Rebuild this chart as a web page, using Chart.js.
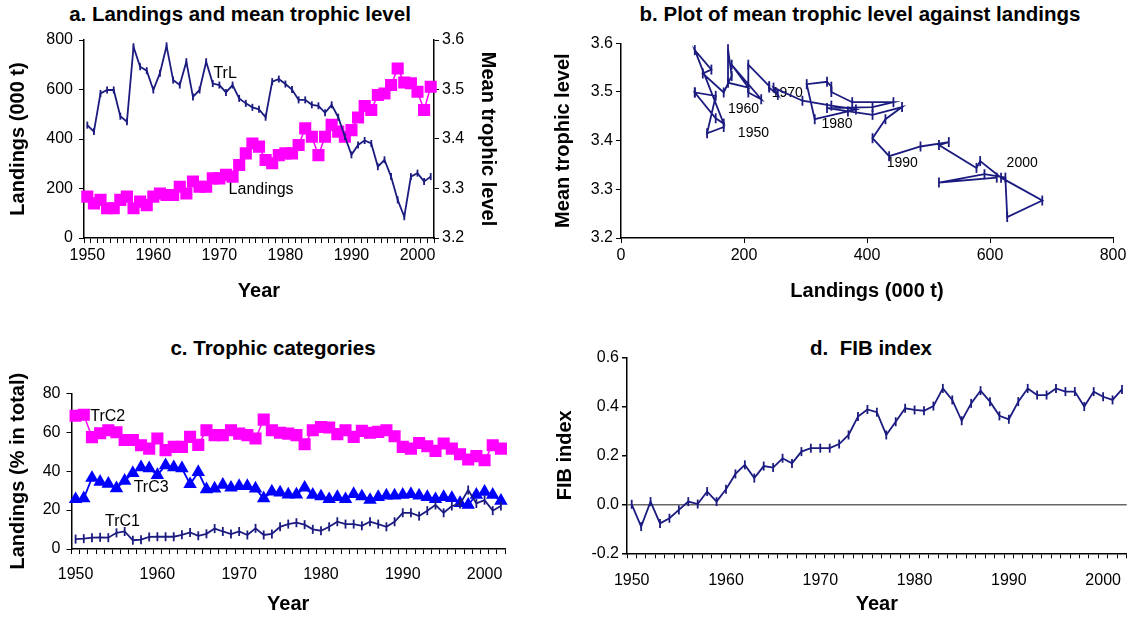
<!DOCTYPE html>
<html>
<head>
<meta charset="utf-8">
<script src="https://cdn.jsdelivr.net/npm/chart.js@4.4.1/dist/chart.umd.min.js"></script>
<style>
  body { margin: 0; background: #fff; width: 1133px; height: 617px; overflow: hidden; position: relative;
         font-family: "Liberation Sans", Arial, sans-serif; }
  canvas { position: absolute; }
  .ttl { position: absolute; font-weight: bold; font-size: 20.5px; white-space: nowrap; transform: translateX(-50%); line-height: 24px; }
</style>
</head>
<body>
<div class="ttl" style="left:240px;top:2px">a. Landings and mean trophic level</div>
<div class="ttl" style="left:860px;top:2px">b. Plot of mean trophic level against landings</div>
<div class="ttl" style="left:273px;top:336px">c. Trophic categories</div>
<div class="ttl" style="left:871px;top:336px">d.&nbsp; FIB index</div>

<canvas id="ca" width="560" height="310" style="left:0;top:0"></canvas>
<canvas id="cb" width="588" height="310" style="left:545px;top:0"></canvas>
<canvas id="cc" width="545" height="297" style="left:0;top:320px"></canvas>
<canvas id="cd" width="588" height="297" style="left:545px;top:320px"></canvas>

<script>
var years = [1950, 1951, 1952, 1953, 1954, 1955, 1956, 1957, 1958, 1959,
             1960, 1961, 1962, 1963, 1964, 1965, 1966, 1967, 1968, 1969,
             1970, 1971, 1972, 1973, 1974, 1975, 1976, 1977, 1978, 1979,
             1980, 1981, 1982, 1983, 1984, 1985, 1986, 1987, 1988, 1989,
             1990, 1991, 1992, 1993, 1994, 1995, 1996, 1997, 1998, 1999,
             2000, 2001, 2002];
var decadeTicks = [1950, 1960, 1970, 1980, 1990, 2000];

// landings, 000 t
var landings = [167, 140, 154, 120, 120, 154, 167, 120, 147, 133,
                167, 180, 174, 174, 207, 180, 228, 207, 207, 241,
                241, 255, 248, 295, 342, 382, 369, 315, 302, 335,
                342, 342, 376, 443, 409, 335, 409, 457, 430, 409,
                436, 487, 533, 517, 578, 584, 618, 685, 628, 625,
                591, 517, 611];

// mean trophic level
var trl = [3.428, 3.415, 3.492, 3.499, 3.499, 3.446, 3.435, 3.586, 3.546, 3.538,
           3.499, 3.533, 3.588, 3.519, 3.509, 3.556, 3.485, 3.499, 3.556, 3.512,
           3.509, 3.494, 3.509, 3.482, 3.472, 3.464, 3.460, 3.444, 3.516, 3.521,
           3.511, 3.500, 3.479, 3.479, 3.469, 3.467, 3.453, 3.469, 3.444, 3.405,
           3.368, 3.388, 3.397, 3.391, 3.344, 3.358, 3.324, 3.277, 3.243, 3.324,
           3.331, 3.314, 3.324];

// trophic categories, % of total
var trc1 = [5.1, 5.3, 5.8, 6.0, 5.8, 8.3, 9.0, 4.5, 4.8, 6.2,
            6.3, 6.3, 6.3, 7.3, 8.5, 6.8, 7.8, 10.5, 9.0, 7.7,
            9.0, 7.2, 10.6, 7.2, 7.7, 11.4, 12.8, 13.5, 12.5, 10.1,
            9.4, 11.4, 14.0, 12.8, 12.8, 11.9, 14.0, 12.8, 11.4, 14.0,
            18.6, 18.6, 16.9, 19.7, 22.6, 18.6, 22.1, 23.1, 30.3, 23.4,
            25.1, 19.7, 22.1];
var trc2 = [68.5, 69.0, 57.5, 59.5, 61.0, 60.0, 56.0, 56.0, 53.3, 51.6,
            56.8, 50.8, 52.5, 52.5, 57.6, 53.5, 61.0, 58.5, 58.5, 61.0,
            59.3, 58.5, 56.8, 66.5, 61.0, 59.7, 59.3, 58.5, 53.8, 61.0,
            62.7, 62.4, 59.0, 61.0, 57.6, 60.7, 59.7, 60.2, 61.0, 57.9,
            52.5, 51.6, 54.5, 52.8, 50.4, 54.2, 51.6, 48.7, 46.0, 47.7,
            45.6, 53.3, 51.6];
var trc3 = [25.6, 26.0, 36.5, 34.5, 33.5, 31.2, 35.0, 39.0, 42.0, 41.5,
            38.0, 43.0, 42.0, 41.5, 33.3, 39.5, 30.7, 31.0, 33.0, 31.5,
            32.3, 32.3, 31.0, 26.0, 29.5, 29.0, 28.0, 28.0, 31.5, 27.8,
            27.0, 25.6, 26.7, 25.6, 28.2, 27.0, 25.2, 26.7, 27.4, 27.4,
            27.8, 28.2, 27.4, 26.7, 25.6, 26.7, 26.2, 23.6, 22.7, 27.8,
            29.4, 27.8, 24.8];

// FIB index
var fib = [0.000, -0.091, 0.011, -0.078, -0.057, -0.023, 0.011, 0.001, 0.052, 0.011,
           0.061, 0.124, 0.161, 0.107, 0.156, 0.150, 0.188, 0.167, 0.215, 0.229,
           0.229, 0.229, 0.246, 0.283, 0.358, 0.387, 0.376, 0.283, 0.337, 0.392,
           0.385, 0.382, 0.401, 0.473, 0.426, 0.341, 0.412, 0.464, 0.419, 0.361,
           0.347, 0.419, 0.473, 0.446, 0.446, 0.473, 0.460, 0.460, 0.399, 0.460,
           0.439, 0.426, 0.469];

var navy = '#1b1b80';
var magenta = '#ff00ff';
var blue = '#0000ff';

Chart.defaults.font.family = '"Liberation Sans", Arial, sans-serif';
Chart.defaults.font.size = 16;
Chart.defaults.color = '#000';

function pts(xs, ys) {
  return xs.map((x, i) => ({ x: x, y: ys[i] }));
}

// text written at data positions, under the lines
var textLabels = {
  id: 'textLabels',
  beforeDatasetsDraw(chart, args, opts) {
    var ctx = chart.ctx;
    ctx.save();
    ctx.font = opts.font || '16px "Liberation Sans", Arial, sans-serif';
    ctx.fillStyle = '#000';
    ctx.textAlign = 'left';
    ctx.textBaseline = 'middle';
    (opts.items || []).forEach(it => {
      var x = chart.scales.x.getPixelForValue(it.x);
      var y = chart.scales[it.axis || 'y'].getPixelForValue(it.y);
      ctx.fillText(it.text, x, y);
    });
    ctx.restore();
  }
};

function fixSize(n) {
  return s => { if (s.isHorizontal()) s.height = n; else s.width = n; };
}

function axisTitle(text, pad) {
  return { display: true, text: text, font: { size: 20, weight: 'bold' }, padding: pad || 4 };
}

var axisLine = { color: '#000', width: 1.5 };
var tickMarks = { drawOnChartArea: false, tickLength: 5, color: '#000', lineWidth: 1 };

// tick marks sit between the years (every half year), labels under each decade
function yearAxis(h, titlePad, labelPad) {
  return {
    type: 'linear', min: 1949.5, max: 2002.5,
    afterBuildTicks: s => {
      var t = s.ticks.concat(decadeTicks.map(v => ({ value: v })));
      t.sort((a, b) => a.value - b.value);
      s.ticks = t;
    },
    ticks: { stepSize: 1, autoSkip: false, maxRotation: 0, includeBounds: false,
             padding: labelPad || 3,
             callback: v => (Number.isInteger(v) && v % 10 === 0 ? String(v) : '') },
    grid: { drawOnChartArea: false, tickLength: 5, lineWidth: 1,
            tickColor: c => (c.tick && Number.isInteger(c.tick.value) ? 'rgba(0,0,0,0)' : '#000') },
    border: axisLine,
    title: axisTitle('Year', titlePad),
    afterFit: s => { s.height = h; s.paddingLeft = 0; s.paddingRight = 0; }
  };
}

var common = {
  responsive: false, animation: false, events: [],
  elements: { line: { tension: 0 } }
};

// a. landings and mean trophic level
new Chart(document.getElementById('ca'), {
  type: 'line',
  data: {
    datasets: [
      { data: pts(years, trl), yAxisID: 'y2', borderColor: navy, borderWidth: 1.8,
        pointStyle: 'line', pointRotation: 90, pointRadius: 3.5, pointBorderColor: navy,
        pointBorderWidth: 1.8, clip: false },
      { data: pts(years, landings), yAxisID: 'y', borderColor: magenta, borderWidth: 1.5,
        pointStyle: 'rect', pointRadius: 7.5, pointBackgroundColor: magenta,
        pointBorderColor: magenta, clip: false }
    ]
  },
  plugins: [textLabels],
  options: Object.assign({}, common, {
    layout: { padding: { left: 2, right: 56, top: 40, bottom: 3 } },
    plugins: {
      legend: { display: false }, tooltip: { enabled: false },
      textLabels: { items: [
        { text: 'TrL', x: 1969.1, y: 3.533, axis: 'y2' },
        { text: 'Landings', x: 1971.4, y: 194 }
      ] }
    },
    scales: {
      x: yearAxis(69),
      y: { position: 'left', min: 0, max: 800, ticks: { stepSize: 200, padding: 6 },
           grid: tickMarks, border: axisLine, title: axisTitle('Landings (000 t)'),
           afterFit: fixSize(82) },
      y2: { position: 'right', min: 3.2, max: 3.6,
            ticks: { stepSize: 0.1, callback: v => v.toFixed(1) },
            grid: tickMarks, border: axisLine, title: axisTitle('Mean trophic level'),
            afterFit: fixSize(70) }
    }
  })
});

// b. mean trophic level against landings
new Chart(document.getElementById('cb'), {
  type: 'scatter',
  data: {
    datasets: [
      { data: pts(landings, trl), showLine: true, borderColor: navy, borderWidth: 1.8,
        pointStyle: 'line', pointRotation: 90, pointRadius: 5, pointBorderColor: navy,
        pointBorderWidth: 1.8, clip: false }
    ]
  },
  plugins: [textLabels],
  options: Object.assign({}, common, {
    layout: { padding: { left: 2, right: 20, top: 43.3, bottom: 2.3 } },
    plugins: {
      legend: { display: false }, tooltip: { enabled: false },
      textLabels: { font: '14px "Liberation Sans", Arial, sans-serif', items: [
        { text: '1950', x: 190, y: 3.416 },
        { text: '1960', x: 174, y: 3.465 },
        { text: '1970', x: 245, y: 3.498 },
        { text: '1980', x: 326, y: 3.434 },
        { text: '1990', x: 432, y: 3.354 },
        { text: '2000', x: 627, y: 3.354 }
      ] }
    },
    scales: {
      x: { type: 'linear', min: 0, max: 800, ticks: { stepSize: 200 },
           grid: tickMarks, border: axisLine, title: axisTitle('Landings (000 t)'),
           afterFit: fixSize(69.7) },
      y: { min: 3.2, max: 3.6, ticks: { stepSize: 0.1, callback: v => v.toFixed(1) },
           grid: tickMarks, border: axisLine, title: axisTitle('Mean trophic level'),
           afterFit: fixSize(74) }
    }
  })
});

// c. trophic categories
new Chart(document.getElementById('cc'), {
  type: 'line',
  data: {
    datasets: [
      { data: pts(years, trc1), borderColor: navy, borderWidth: 1.8,
        pointStyle: 'line', pointRotation: 90, pointRadius: 4.5, pointBorderColor: navy,
        pointBorderWidth: 1.8, clip: false },
      { data: pts(years, trc3), borderColor: blue, borderWidth: 1.8,
        pointStyle: 'triangle', pointRadius: 6, pointBackgroundColor: blue,
        pointBorderColor: blue, clip: false },
      { data: pts(years, trc2), borderColor: magenta, borderWidth: 1.5,
        pointStyle: 'rect', pointRadius: 7.5, pointBackgroundColor: magenta,
        pointBorderColor: magenta, clip: false }
    ]
  },
  plugins: [textLabels],
  options: Object.assign({}, common, {
    layout: { padding: { left: 2, right: 40, top: 73.3, bottom: 1 } },
    plugins: {
      legend: { display: false }, tooltip: { enabled: false },
      textLabels: { items: [
        { text: 'TrC2', x: 1951.8, y: 67.8 },
        { text: 'TrC3', x: 1957.1, y: 31.8 },
        { text: 'TrC1', x: 1953.6, y: 13.9 }
      ] }
    },
    scales: {
      x: yearAxis(67, { top: 2, bottom: 0 }, 11),
      y: { min: 0, max: 80, ticks: { stepSize: 20, padding: 6 },
           grid: tickMarks, border: axisLine, title: axisTitle('Landings (% in total)'),
           afterFit: fixSize(69.5) }
    }
  })
});

// d. FIB index
new Chart(document.getElementById('cd'), {
  type: 'line',
  data: {
    datasets: [
      { data: pts(years, fib), borderColor: navy, borderWidth: 1.8,
        pointStyle: 'line', pointRotation: 90, pointRadius: 4.5, pointBorderColor: navy,
        pointBorderWidth: 1.8, clip: false }
    ]
  },
  options: Object.assign({}, common, {
    layout: { padding: { left: 4, right: 1.5, top: 37.3, bottom: 1 } },
    plugins: { legend: { display: false }, tooltip: { enabled: false } },
    scales: {
      x: yearAxis(62.7, { top: 2, bottom: 0 }, 13),
      y: { min: -0.2, max: 0.6, ticks: { stepSize: 0.2, callback: v => v.toFixed(1) },
           grid: { drawOnChartArea: true, tickLength: 5, tickColor: '#000', lineWidth: 1.5,
                   color: c => (c.tick && Math.abs(c.tick.value) < 1e-9 ? '#666' : 'rgba(0,0,0,0)') },
           border: axisLine, title: axisTitle('FIB index'),
           afterFit: fixSize(78) }
    }
  })
});
</script>
</body>
</html>
